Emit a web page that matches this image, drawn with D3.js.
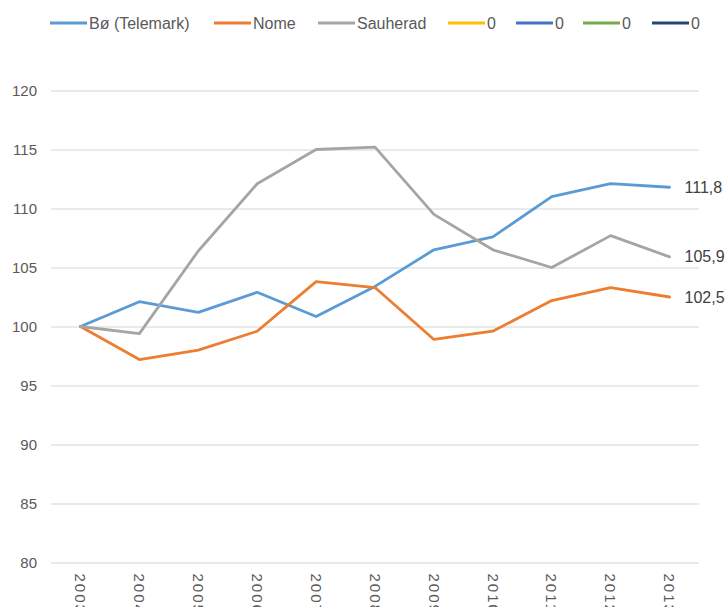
<!DOCTYPE html>
<html>
<head>
<meta charset="utf-8">
<script src="https://cdn.jsdelivr.net/npm/d3@7"></script>
<style>
html,body{margin:0;padding:0;background:#fff;}
svg{display:block;}
text{font-family:"Liberation Sans",Arial,sans-serif;}
</style>
</head>
<body>
<svg id="chart" width="727" height="607"></svg>
<script>
const years = ["2003","2004","2005","2006","2007","2008","2009","2010","2011","2012","2013"];
const seriesNames = ["Bø (Telemark)","Nome","Sauherad","0","0","0","0"];
const seriesColors = ["#5B9BD5","#ED7D31","#A5A5A5","#FFC000","#4472C4","#70AD47","#264478"];
const boValues = [100,102.1,101.2,102.9,100.85,103.4,106.5,107.6,111.0,112.1,111.8];
const nomeValues = [100,97.2,98.0,99.6,103.8,103.3,98.9,99.6,102.2,103.3,102.5];
const sauheradValues = [100,99.4,106.4,112.1,115.0,115.2,109.5,106.5,105.0,107.7,105.9];
const endLabels = ["111,8","102,5","105,9"];
const yTicks = [80,85,90,95,100,105,110,115,120];

const seriesData = [boValues, nomeValues, sauheradValues];

const svg = d3.select("#chart");
const pLeft = 51, pRight = 699, pTop = 90.5, pBottom = 562.5;

const x = d3.scaleBand().domain(years).range([pLeft, pRight]);
const y = d3.scaleLinear().domain([80,120]).range([pBottom, pTop]);

// gridlines
const yAxis = d3.axisLeft(y).tickValues(yTicks).tickSize(-(pRight-pLeft)).tickPadding(14).tickFormat(d3.format("d"));
const gy = svg.append("g").attr("transform", `translate(${pLeft},0)`).call(yAxis);
gy.select(".domain").remove();
gy.selectAll(".tick line").attr("stroke","#E3E3E3").attr("stroke-width",1.3);
gy.selectAll(".tick text").attr("fill","#595959").attr("font-size","15px").attr("x",-14);

// x labels
const xAxis = d3.axisBottom(x).tickSize(0).tickPadding(0);
const gx = svg.append("g").attr("transform", `translate(0,${pBottom})`).call(xAxis);
gx.select(".domain").remove();
gx.selectAll(".tick text")
  .attr("fill","#595959").attr("font-size","15px")
  .attr("letter-spacing","2px")
  .attr("text-anchor","start")
  .attr("transform","translate(0,11) rotate(90)")
  .attr("x",0).attr("y",0).attr("dy","0.35em");

// lines
const line = d3.line().x((d,i)=>x(years[i]) + x.bandwidth()/2).y(d=>y(d));
seriesData.forEach((vals, s) => {
  svg.append("path").datum(vals)
    .attr("fill","none")
    .attr("stroke", seriesColors[s])
    .attr("stroke-width",2.8)
    .attr("stroke-linejoin","round")
    .attr("stroke-linecap","round")
    .attr("d", line);
});

// end labels
seriesData.forEach((vals, s) => {
  const lastIdx = vals.length - 1;
  svg.append("text")
    .attr("x", x(years[lastIdx]) + x.bandwidth()/2 + 15)
    .attr("y", y(vals[lastIdx]))
    .attr("dy","0.35em")
    .attr("fill","#404040")
    .attr("font-size","16px")
    .text(endLabels[s]);
});

// legend
const legendX = [50,214,318,448,516,583,652];
const legend = svg.append("g").attr("transform","translate(0,23)");
seriesNames.forEach((name, i) => {
  const g = legend.append("g").attr("transform", `translate(${legendX[i]},0)`);
  g.append("line").attr("x1",0).attr("x2",37).attr("y1",0).attr("y2",0)
    .attr("stroke", seriesColors[i]).attr("stroke-width",2.8);
  g.append("text").attr("x",39).attr("y",0).attr("dy","0.35em")
    .attr("fill","#595959").attr("font-size","16px").text(name);
});
</script>
</body>
</html>
